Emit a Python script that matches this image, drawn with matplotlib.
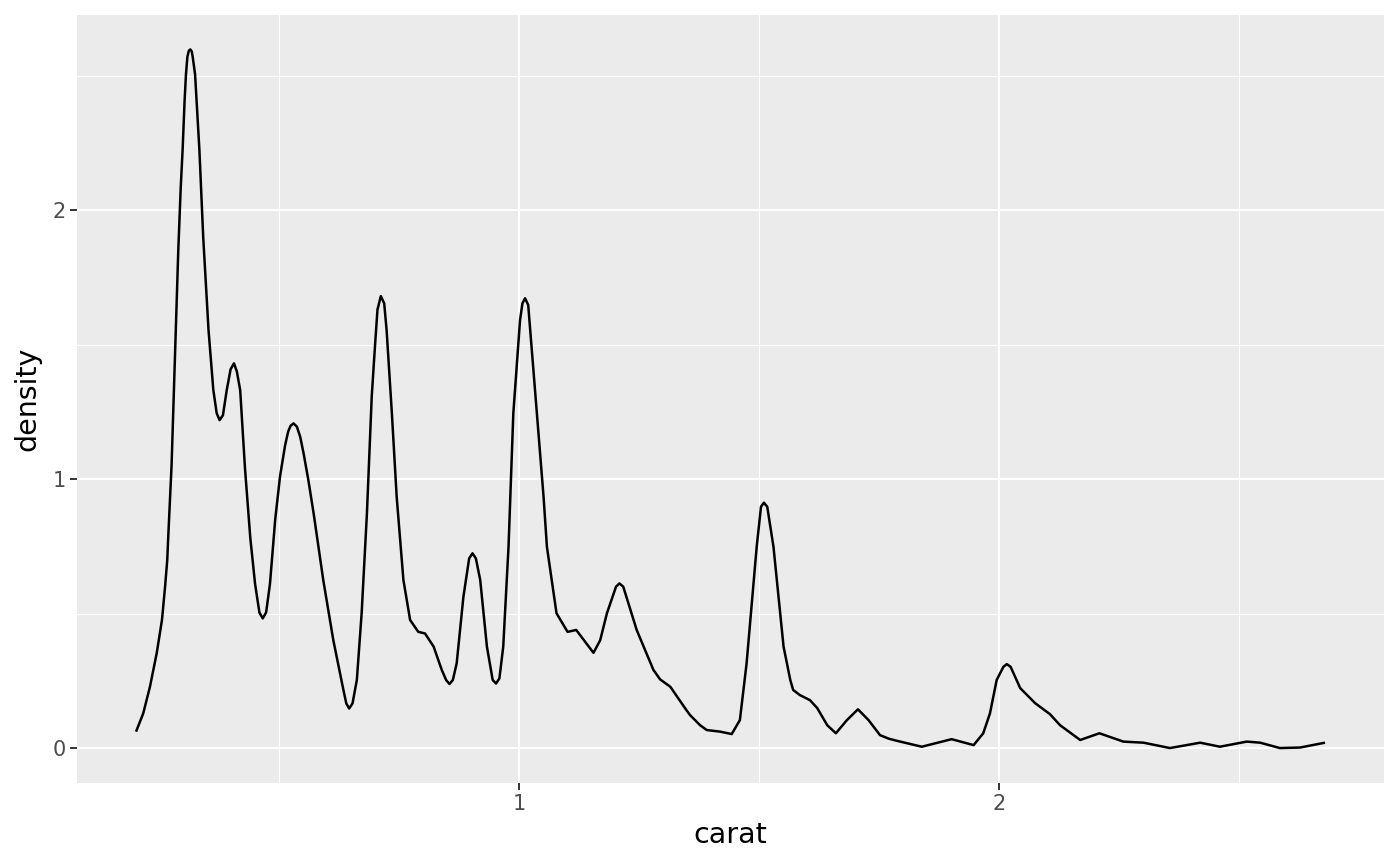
import matplotlib
matplotlib.use("Agg")
import matplotlib.pyplot as plt

# density curve
carat = [0.202, 0.217, 0.231, 0.245, 0.256, 0.2625, 0.267, 0.269, 0.276, 0.283,
         0.290, 0.295, 0.299, 0.303, 0.306, 0.309, 0.312, 0.315, 0.318, 0.320,
         0.325, 0.334, 0.342, 0.353, 0.363, 0.370, 0.376, 0.383, 0.391, 0.399,
         0.406, 0.412, 0.419, 0.429, 0.440, 0.450, 0.459, 0.466, 0.473, 0.481,
         0.492, 0.502, 0.5125, 0.519, 0.524, 0.530, 0.537, 0.544, 0.551, 0.561,
         0.572, 0.592, 0.613, 0.634, 0.640, 0.646, 0.653, 0.662, 0.672, 0.683,
         0.693, 0.700, 0.705, 0.712, 0.719, 0.724, 0.735, 0.745, 0.759, 0.773,
         0.790, 0.804, 0.822, 0.839, 0.848, 0.855, 0.862, 0.870, 0.884, 0.896,
         0.903, 0.910, 0.919, 0.933, 0.945, 0.952, 0.959, 0.967, 0.978, 0.988,
         1.002, 1.007, 1.0125, 1.019, 1.037, 1.051, 1.058, 1.078, 1.101, 1.119,
         1.1375, 1.155, 1.169, 1.183, 1.202, 1.209, 1.217, 1.245, 1.2625, 1.280,
         1.294, 1.315, 1.349, 1.356, 1.377, 1.391, 1.419, 1.443, 1.460, 1.474,
         1.495, 1.504, 1.510, 1.517, 1.530, 1.551, 1.565, 1.571, 1.585, 1.606,
         1.621, 1.642, 1.660, 1.683, 1.706, 1.728, 1.752, 1.770, 1.787, 1.839,
         1.901, 1.947, 1.967, 1.981, 1.995, 2.009, 2.016, 2.024, 2.044, 2.075,
         2.106, 2.127, 2.169, 2.209, 2.259, 2.301, 2.356, 2.419, 2.460, 2.516,
         2.544, 2.585, 2.627, 2.679]
density = [0.061, 0.129, 0.228, 0.352, 0.476, 0.600, 0.699, 0.782, 1.050, 1.450,
           1.850, 2.080, 2.223, 2.400, 2.504, 2.570, 2.592, 2.597, 2.590, 2.570,
           2.504, 2.223, 1.897, 1.554, 1.331, 1.245, 1.219, 1.237, 1.331, 1.408,
           1.430, 1.400, 1.330, 1.039, 0.782, 0.610, 0.504, 0.482, 0.504, 0.610,
           0.851, 1.010, 1.125, 1.177, 1.198, 1.207, 1.195, 1.157, 1.096, 0.996,
           0.872, 0.625, 0.401, 0.216, 0.166, 0.147, 0.166, 0.253, 0.501, 0.872,
           1.306, 1.500, 1.630, 1.680, 1.653, 1.554, 1.244, 0.934, 0.625, 0.476,
           0.432, 0.426, 0.377, 0.290, 0.253, 0.238, 0.253, 0.315, 0.562, 0.705,
           0.724, 0.705, 0.625, 0.377, 0.253, 0.240, 0.259, 0.377, 0.748, 1.244,
           1.591, 1.653, 1.672, 1.647, 1.244, 0.934, 0.748, 0.501, 0.432, 0.439,
           0.395, 0.354, 0.401, 0.501, 0.600, 0.612, 0.600, 0.439, 0.364, 0.290,
           0.255, 0.228, 0.140, 0.123, 0.085, 0.067, 0.061, 0.052, 0.104, 0.315,
           0.748, 0.897, 0.912, 0.897, 0.748, 0.377, 0.253, 0.216, 0.197, 0.178,
           0.149, 0.085, 0.055, 0.104, 0.144, 0.104, 0.048, 0.035, 0.027, 0.005,
           0.033, 0.011, 0.055, 0.129, 0.253, 0.302, 0.312, 0.302, 0.223, 0.167,
           0.126, 0.085, 0.030, 0.055, 0.024, 0.020, 0.000, 0.020, 0.005, 0.024,
           0.020, 0.000, 0.002, 0.020]

x_major = [1, 2]
x_minor = [0.5, 1.5, 2.5]
y_major = [0, 1, 2]
y_minor = [0.5, 1.5, 2.5]

fig = plt.figure(figsize=(14, 8.66), dpi=100)
ax = fig.add_axes([0.055, 0.0958, 0.9336, 0.8869])
ax.set_facecolor("#EBEBEB")
for s in ax.spines.values():
    s.set_visible(False)

for v in x_minor:
    ax.axvline(v, color="white", lw=0.7, zorder=0)
for v in y_minor:
    ax.axhline(v, color="white", lw=0.7, zorder=0)
for v in x_major:
    ax.axvline(v, color="white", lw=1.4, zorder=0)
for v in y_major:
    ax.axhline(v, color="white", lw=1.4, zorder=0)

ax.plot(carat, density, color="black", lw=1.8, solid_joinstyle="round",
        solid_capstyle="butt")

ax.set_xlim(0.079, 2.802)
ax.set_ylim(-0.130, 2.725)
ax.set_xticks(x_major)
ax.set_yticks(y_major)
ax.set_xticklabels([str(v) for v in x_major])
ax.set_yticklabels([str(v) for v in y_major])
ax.tick_params(axis="both", colors="#333333", labelcolor="#4D4D4D",
               labelsize=15, length=5, width=1.4, pad=3)
ax.set_xlabel("carat", fontsize=20.5, color="black", labelpad=5)
ax.set_ylabel("density", fontsize=20.5, color="black", labelpad=8)

fig.savefig("out.png", dpi=100, facecolor="white")
